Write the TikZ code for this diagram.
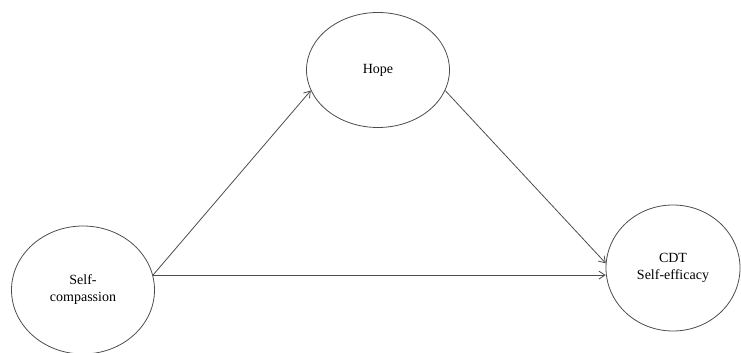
\documentclass[tikz,border=0pt]{standalone}
\usepackage{fontspec}
\setmainfont{Liberation Serif}
\usepackage{tikz}
\usetikzlibrary{shapes.geometric,arrows.meta,positioning,calc}

\begin{document}
\begin{tikzpicture}[
    x=1pt, y=1pt,
    construct/.style={ellipse, draw=black!70, line width=0.8pt, align=center, inner sep=0pt, font=\fontsize{14}{17}\selectfont},
    arrow/.style={-{Straight Barb[length=6pt,width=8pt]}, draw=black!70, line width=0.8pt}
]
    \useasboundingbox (0,0) rectangle (741,353);

    % Predictor
    \node[construct, minimum width=143pt, minimum height=128pt] (selfcomp) at (83,63) {Self-\\compassion};

    % Mediator
    \node[construct, minimum width=143pt, minimum height=115pt] (hope) at (378,283) {Hope};

    % Outcome
    \node[construct, minimum width=134pt, minimum height=126pt] (cdt) at (673,85) {CDT\\Self-efficacy};

    % Arrows
    \draw[arrow] (selfcomp.12) -- (hope.197);
    \draw[arrow] (hope.343) -- (cdt.176);
    \draw[arrow] (selfcomp.12) -- (selfcomp.12 -| cdt.west);

\end{tikzpicture}
\end{document}
